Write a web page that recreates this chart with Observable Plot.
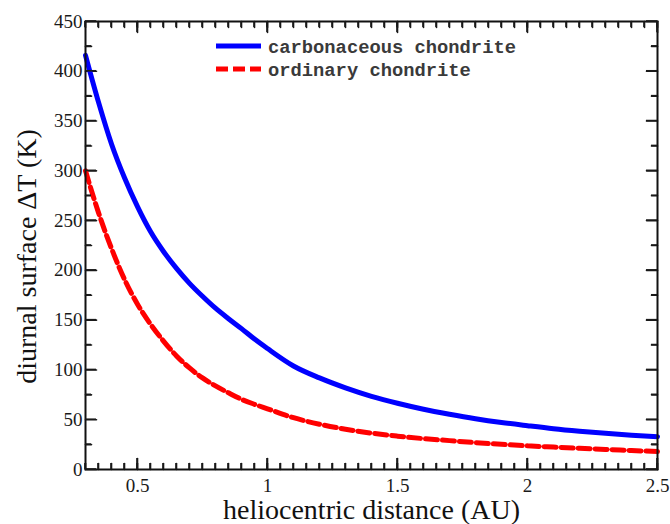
<!DOCTYPE html>
<html>
<head>
<meta charset="utf-8">
<script src="https://cdn.jsdelivr.net/npm/d3@7"></script>
<script src="https://cdn.jsdelivr.net/npm/@observablehq/plot@0.6"></script>
<style>
  html, body { margin: 0; padding: 0; background: #fff; }
  #wrap { position: relative; width: 670px; height: 524px; }
  .overlay { position: absolute; left: 0; top: 0; pointer-events: none; }
</style>
</head>
<body>
<div id="wrap"></div>
<script>
// --- data ---
const distance = [0.3, 0.35, 0.4, 0.45, 0.5, 0.55, 0.6, 0.65, 0.7, 0.75, 0.8, 0.85, 0.9, 0.95, 1.0,
                  1.1, 1.2, 1.3, 1.4, 1.5, 1.6, 1.7, 1.8, 1.9, 2.0, 2.1, 2.2, 2.3, 2.4, 2.5];
const carbonaceous = [416, 369, 327, 293, 264, 239, 219, 202, 187, 174, 162, 151.5, 141.5, 131, 121.5,
                      104, 92, 82, 73.5, 66.5, 60.5, 55.5, 51, 47.2, 44, 41, 38.5, 36.3, 34.5, 33];
const ordinary = [300, 258, 222, 191, 166, 146, 129, 114, 102, 92, 84, 77, 70.5, 65.5, 61,
                  52, 45.5, 40.5, 36.5, 33.5, 31, 29, 27, 25.3, 23.8, 22.5, 21.3, 20.2, 19.1, 18];
const seriesNames = ["carbonaceous chondrite", "ordinary chondrite"];
const xMajor = [0.5, 1, 1.5, 2, 2.5];
const xMinor = d3.range(0.3, 2.5001, 0.05);
const yMajor = [0, 50, 100, 150, 200, 250, 300, 350, 400, 450];
const yMinor = d3.range(25, 450, 50);
const xTitle = "heliocentric distance (AU)";
const yTitle = "diurnal surface ΔT (K)";

const W = 670, H = 524, mL = 85, mR = 13, mT = 21, mB = 55;
const MAJ = 11, MIN = 6;

const dataC = distance.map((d, i) => ({x: d, y: carbonaceous[i]}));
const dataO = distance.map((d, i) => ({x: d, y: ordinary[i]}));

const tickShape = {draw(context, l) { context.moveTo(0, 0); context.lineTo(0, -l); }};
const tickOpts = {shape: tickShape, anchor: "start", stroke: "#1a1a1a", strokeWidth: 1.6};
function inwardTicks(values, len) {
  return [
    Plot.vector(values, {x: d => d, frameAnchor: "bottom", rotate: 0, length: len, ...tickOpts}),
    Plot.vector(values, {x: d => d, frameAnchor: "top", rotate: 180, length: len, ...tickOpts})
  ];
}
function inwardTicksY(values, len) {
  return [
    Plot.vector(values, {y: d => d, frameAnchor: "left", rotate: 90, length: len, ...tickOpts}),
    Plot.vector(values, {y: d => d, frameAnchor: "right", rotate: -90, length: len, ...tickOpts})
  ];
}

const chart = Plot.plot({
  width: W, height: H,
  marginLeft: mL, marginRight: mR, marginTop: mT, marginBottom: mB,
  style: {fontFamily: "'Liberation Serif', 'Times New Roman', serif", fontSize: "19px", color: "#1a1a1a", background: "#fff"},
  x: {domain: [0.3, 2.5], ticks: xMajor, tickFormat: d => String(d), tickSize: 0, tickPadding: 9, label: null},
  y: {domain: [0, 450], ticks: yMajor, tickFormat: d => String(d), tickSize: 0, tickPadding: 3, label: null},
  marks: [
    ...inwardTicks(xMinor, MIN), ...inwardTicks(xMajor, MAJ),
    ...inwardTicksY(yMinor, MIN), ...inwardTicksY(yMajor, MAJ),
    Plot.line(dataO, {x: "x", y: "y", stroke: "#ff0000", strokeWidth: 5, strokeDasharray: "12,5", curve: "monotone-x"}),
    Plot.line(dataC, {x: "x", y: "y", stroke: "#0000ff", strokeWidth: 5, curve: "monotone-x"}),
    Plot.frame({stroke: "#111", strokeWidth: 2}),
    Plot.text([xTitle], {frameAnchor: "bottom", dy: 41, fontSize: 28, fill: "#111", textAnchor: "middle", lineAnchor: "middle"}),
    Plot.text([yTitle], {frameAnchor: "left", dx: -58, dy: 11, rotate: -90, fontSize: 28, fill: "#111", textAnchor: "middle", lineAnchor: "middle"})
  ]
});

const wrap = document.getElementById("wrap");
wrap.appendChild(chart);

const ns = "http://www.w3.org/2000/svg";
function overlay(h) {
  const s = document.createElementNS(ns, "svg");
  s.setAttribute("class", "overlay");
  s.setAttribute("width", W);
  s.setAttribute("height", h);
  wrap.appendChild(s);
  return s;
}

// inward ticks as thin filled rectangles, positioned through Plot's scales
const sx = chart.scale("x"), sy = chart.scale("y");
const [x0, x1] = sx.range, [y0, y1] = sy.range;
const tk = overlay(H);
function rect(x, y, w, h) {
  const r = document.createElementNS(ns, "rect");
  r.setAttribute("x", x); r.setAttribute("y", y);
  r.setAttribute("width", w); r.setAttribute("height", h);
  r.setAttribute("fill", "#1a1a1a");
  tk.appendChild(r);
}
function xt(vals, len) {
  vals.forEach(v => { const p = sx.apply(v); rect(p - 0.8, y0 - len, 1.6, len); rect(p - 0.8, y1, 1.6, len); });
}
function yt(vals, len) {
  vals.forEach(v => { const p = sy.apply(v); rect(x0, p - 0.8, len, 1.6); rect(x1 - len, p - 0.8, len, 1.6); });
}
xt(xMinor, MIN); xt(xMajor, MAJ);
yt(yMinor, MIN); yt(yMajor, MAJ);

// legend (inside the plot frame, top-centre)
const leg = overlay(100);
const legendItems = [
  {name: seriesNames[0], color: "#0000ff", dash: null, cy: 46},
  {name: seriesNames[1], color: "#ff0000", dash: "12,5", cy: 69}
];
legendItems.forEach(it => {
  const l = document.createElementNS(ns, "line");
  l.setAttribute("x1", 216); l.setAttribute("x2", 261);
  l.setAttribute("y1", it.cy); l.setAttribute("y2", it.cy);
  l.setAttribute("stroke", it.color); l.setAttribute("stroke-width", 5);
  if (it.dash) l.setAttribute("stroke-dasharray", it.dash);
  leg.appendChild(l);
  const t = document.createElementNS(ns, "text");
  t.setAttribute("x", 268); t.setAttribute("y", it.cy);
  t.setAttribute("dy", "0.35em");
  t.setAttribute("font-family", "'Liberation Mono', 'Courier New', monospace");
  t.setAttribute("font-weight", "bold");
  t.setAttribute("font-size", "18.8px");
  t.setAttribute("fill", "#3a3a3a");
  t.textContent = it.name;
  leg.appendChild(t);
});
</script>
</body>
</html>
